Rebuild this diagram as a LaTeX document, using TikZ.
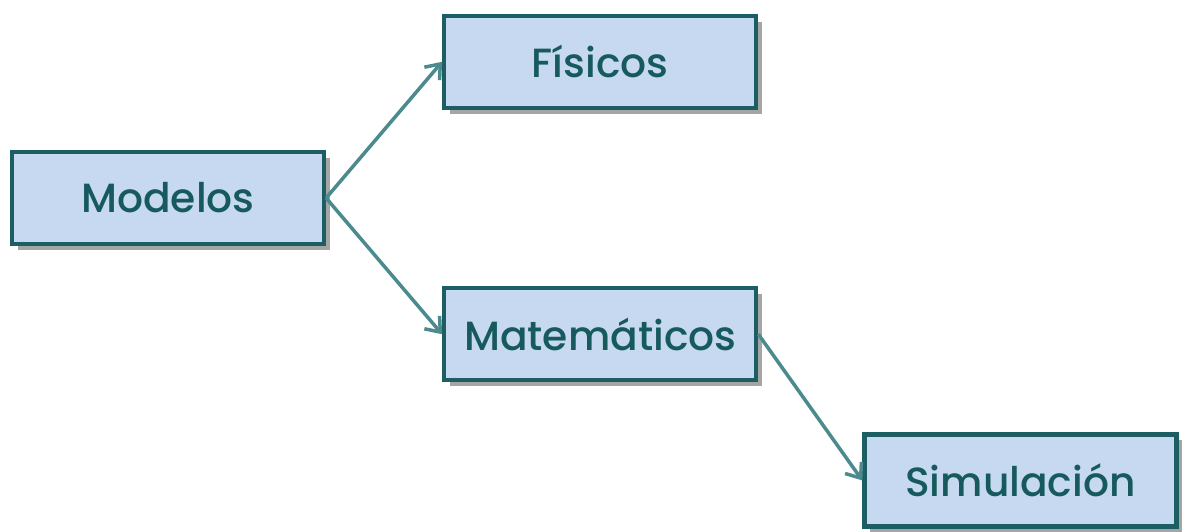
\documentclass[tikz,border=0pt]{standalone}
\usepackage{fontspec}
\setmainfont{Poppins}[UprightFont={Poppins Medium}]
\usepackage{tikz}
\usetikzlibrary{positioning,arrows.meta,shadows}

\definecolor{boxline}{HTML}{1D5E62}
\definecolor{boxfill}{HTML}{C6D9F0}
\definecolor{boxtext}{HTML}{175A5E}
\definecolor{arrowcol}{HTML}{4B8B8D}

\begin{document}
\begin{tikzpicture}[
  box/.style={draw=boxline, line width=3pt, fill=boxfill,
              minimum width=7.8cm, minimum height=2.3cm, inner sep=0pt,
              text=boxtext, font=\fontsize{29}{32}\selectfont,
              drop shadow={shadow xshift=0.15cm, shadow yshift=-0.15cm,
                           opacity=0.5, fill=black!70}},
  link/.style={draw=arrowcol, line width=2.5pt,
               -{Straight Barb[length=0.32cm, width=0.5cm, line width=2.5pt]}}
]
  \useasboundingbox (0,0) rectangle (29.6,-13.275);
  \node[box] (modelos) at (4.2,-4.95) {Modelos};
  \node[box, above right=1.0cm and 2.9cm of modelos] (fisicos) {Físicos};
  \node[box, below right=1.0cm and 2.9cm of modelos] (matematicos) {Matemáticos};
  \node[box, below right=1.25cm and 2.6cm of matematicos] (simulacion) {Simulación};

  \draw[link] (modelos.east) -- (fisicos.west);
  \draw[link] (modelos.east) -- (matematicos.west);
  \draw[link] (matematicos.east) -- (simulacion.west);
\end{tikzpicture}
\end{document}
